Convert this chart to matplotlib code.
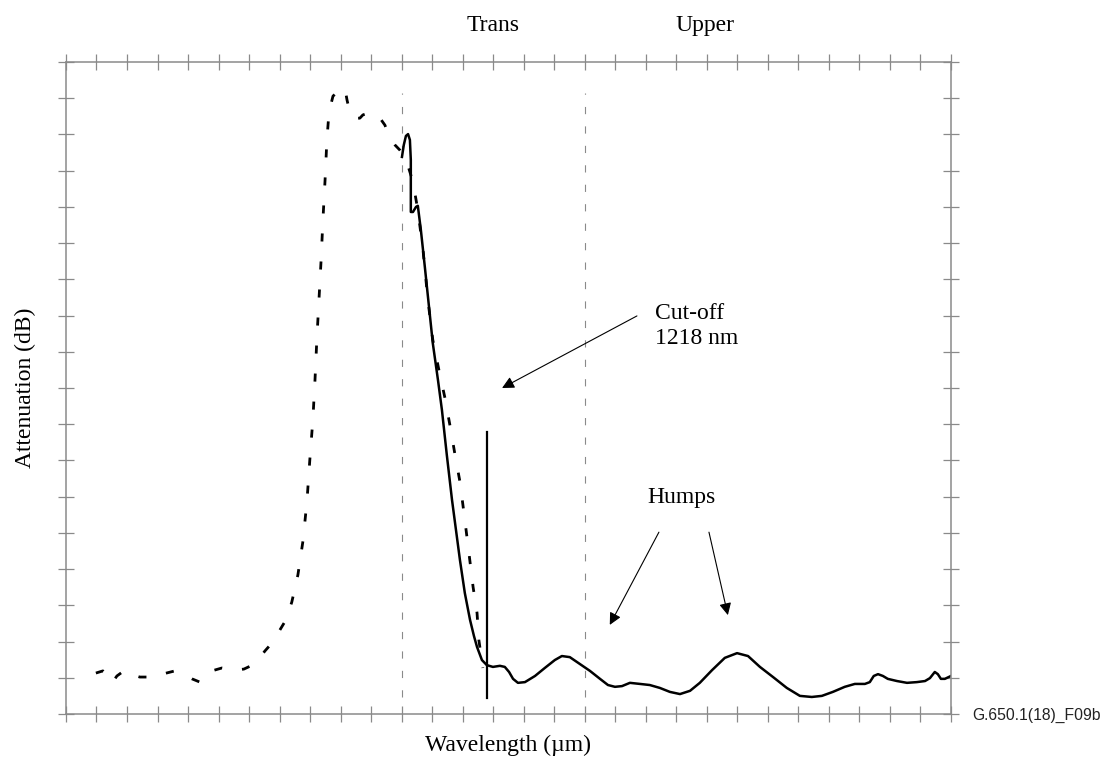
import matplotlib
matplotlib.use("Agg")
import matplotlib.pyplot as plt

# dashed curve (reference measurement), x and attenuation in tick units
ref_x = [0.98, 1.21, 1.38, 1.51, 1.67, 1.93, 2.10, 2.42, 2.82, 3.15, 3.57, 3.80,
         4.13, 4.39, 4.59, 4.78, 5.11, 5.54, 5.83, 6.06, 6.29, 6.52, 6.75, 7.01,
         7.21, 7.40, 7.60, 7.77, 7.90, 7.99, 8.09, 8.16, 8.22, 8.29, 8.36, 8.42,
         8.49, 8.55, 8.62, 8.75, 8.98, 9.14, 9.21, 9.31, 9.47, 9.63, 9.73, 9.90,
         10.12, 10.29, 10.45, 10.62, 10.78, 10.94, 11.07, 11.21, 11.37, 11.53,
         11.70, 11.86, 12.02, 12.22, 12.42, 12.58, 12.75, 12.91, 13.07, 13.24,
         13.34, 13.47, 13.53, 13.66]
ref_y = [1.13, 1.19, 1.05, 0.86, 1.05, 1.21, 1.10, 1.02, 1.02, 1.10, 1.19, 1.13,
         0.97, 0.88, 0.99, 1.19, 1.27, 1.21, 1.24, 1.33, 1.49, 1.74, 1.96, 2.32,
         2.60, 3.09, 3.84, 4.80, 5.91, 7.01, 8.12, 9.22, 10.33, 11.43, 12.53, 13.64,
         14.74, 15.85, 16.62, 17.06, 17.23, 17.28, 16.95, 16.59, 16.45, 16.45, 16.54, 16.59,
         16.59, 16.45, 16.26, 15.90, 15.71, 15.57, 15.41, 15.13, 14.69, 13.91,
         12.81, 11.43, 10.33, 9.50, 8.72, 7.98, 7.15, 6.41, 5.36, 4.20,
         3.51, 2.79, 2.04, 1.27]

# solid curve (fibre under test)
fib_x = [11.01, 11.07, 11.14, 11.21, 11.27, 11.30, 11.30, 11.37, 11.47, 11.53,
         11.63, 11.76, 11.89, 12.02, 12.19, 12.32, 12.48, 12.65, 12.78, 12.91,
         13.07, 13.24, 13.37, 13.47, 13.63, 13.79, 13.99, 14.22, 14.38, 14.52,
         14.65, 14.81, 15.04, 15.37, 15.69, 16.02, 16.25, 16.51, 16.84, 17.17,
         17.50, 17.76, 17.99, 18.22, 18.48, 18.81, 19.13, 19.46, 19.79, 20.12,
         20.45, 20.77, 21.17, 21.59, 21.99, 22.35, 22.74, 23.17, 23.62, 24.05,
         24.44, 24.77, 25.13, 25.52, 25.85, 26.18, 26.34, 26.47, 26.61, 26.77,
         26.93, 27.23, 27.56, 27.88, 28.15, 28.31, 28.47, 28.57, 28.67, 28.80, 29.00]
fib_y = [15.38, 15.71, 15.96, 16.01, 15.85, 15.30, 13.86, 13.86, 14.00, 14.03,
         13.36, 12.34, 11.29, 10.24, 9.22, 8.39, 7.15, 5.91, 5.08, 4.25,
         3.34, 2.60, 2.15, 1.85, 1.49, 1.35, 1.30, 1.33, 1.30, 1.16,
         0.97, 0.86, 0.88, 1.05, 1.27, 1.49, 1.60, 1.57, 1.38, 1.19,
         0.97, 0.80, 0.75, 0.77, 0.86, 0.83, 0.80, 0.72, 0.61, 0.55,
         0.64, 0.86, 1.21, 1.55, 1.68, 1.60, 1.30, 1.02, 0.72, 0.50,
         0.47, 0.50, 0.61, 0.75, 0.83, 0.83, 0.88, 1.05, 1.10, 1.05,
         0.97, 0.91, 0.86, 0.88, 0.91, 0.99, 1.16, 1.10, 0.97, 0.97, 1.05]

region_x = [11.0, 17.0]          # Trans / Upper boundaries
region_labels = ["Trans", "Upper"]
region_label_x = [14.0, 20.94]
cutoff_x = 13.79
cutoff_y = [0.44, 7.79]

serif = "Liberation Serif"

fig = plt.figure(figsize=(11.05, 7.62), dpi=100)
ax = fig.add_axes([0.0597, 0.063, 0.8009, 0.8556])

gray = "#8a8a8a"
for xv in region_x:
    ax.plot([xv, xv], [0.47, 17.15], color=gray, lw=0.8, linestyle=(0, (6.5, 11)))

ax.plot(ref_x, ref_y, color="black", lw=2.0, linestyle=(0, (2.9, 7.2)))
ax.plot(fib_x, fib_y, color="black", lw=1.8, solid_joinstyle="round")
ax.plot([cutoff_x, cutoff_x], cutoff_y, color="black", lw=1.6)

ax.set_xlim(0, 29)
ax.set_ylim(0, 18)
ax.set_xticks(range(0, 30))
ax.set_yticks(range(0, 19))
ax.tick_params(axis="both", which="both", direction="inout", length=11, width=0.9,
               color=gray, top=True, right=True,
               labelbottom=False, labelleft=False)
for sp in ax.spines.values():
    sp.set_color(gray)
    sp.set_linewidth(1.1)

for lx, lab in zip(region_label_x, region_labels):
    ax.text(lx, 19.02, lab, ha="center", va="center", fontsize=17,
            family=serif, clip_on=False)

arrow = dict(arrowstyle="-|>", color="black", lw=0.8, mutation_scale=18,
             shrinkA=0, shrinkB=0)
ax.annotate("", xy=(14.29, 9.00), xytext=(18.71, 10.99), arrowprops=arrow)
ax.text(19.30, 10.71, "Cut-off\n1218 nm", ha="left", va="center", fontsize=17,
        family=serif, linespacing=1.2)

ax.text(20.18, 5.99, "Humps", ha="center", va="center", fontsize=17, family=serif)
ax.annotate("", xy=(17.82, 2.46), xytext=(19.43, 5.02), arrowprops=arrow)
ax.annotate("", xy=(21.69, 2.73), xytext=(21.07, 5.02), arrowprops=arrow)

ax.text(0.5, -0.0475, "Wavelength (µm)", transform=ax.transAxes, ha="center",
        va="center", fontsize=17, family=serif)
ax.text(-0.0463, 0.5, "Attenuation (dB)", transform=ax.transAxes, ha="center",
        va="center", rotation=90, fontsize=17, family=serif)
ax.text(1.0237, -0.0015, "G.650.1(18)_F09b", transform=ax.transAxes, ha="left",
        va="center", fontsize=11.3, family="Liberation Sans", color="#222222")

fig.savefig("out.png", dpi=100)
